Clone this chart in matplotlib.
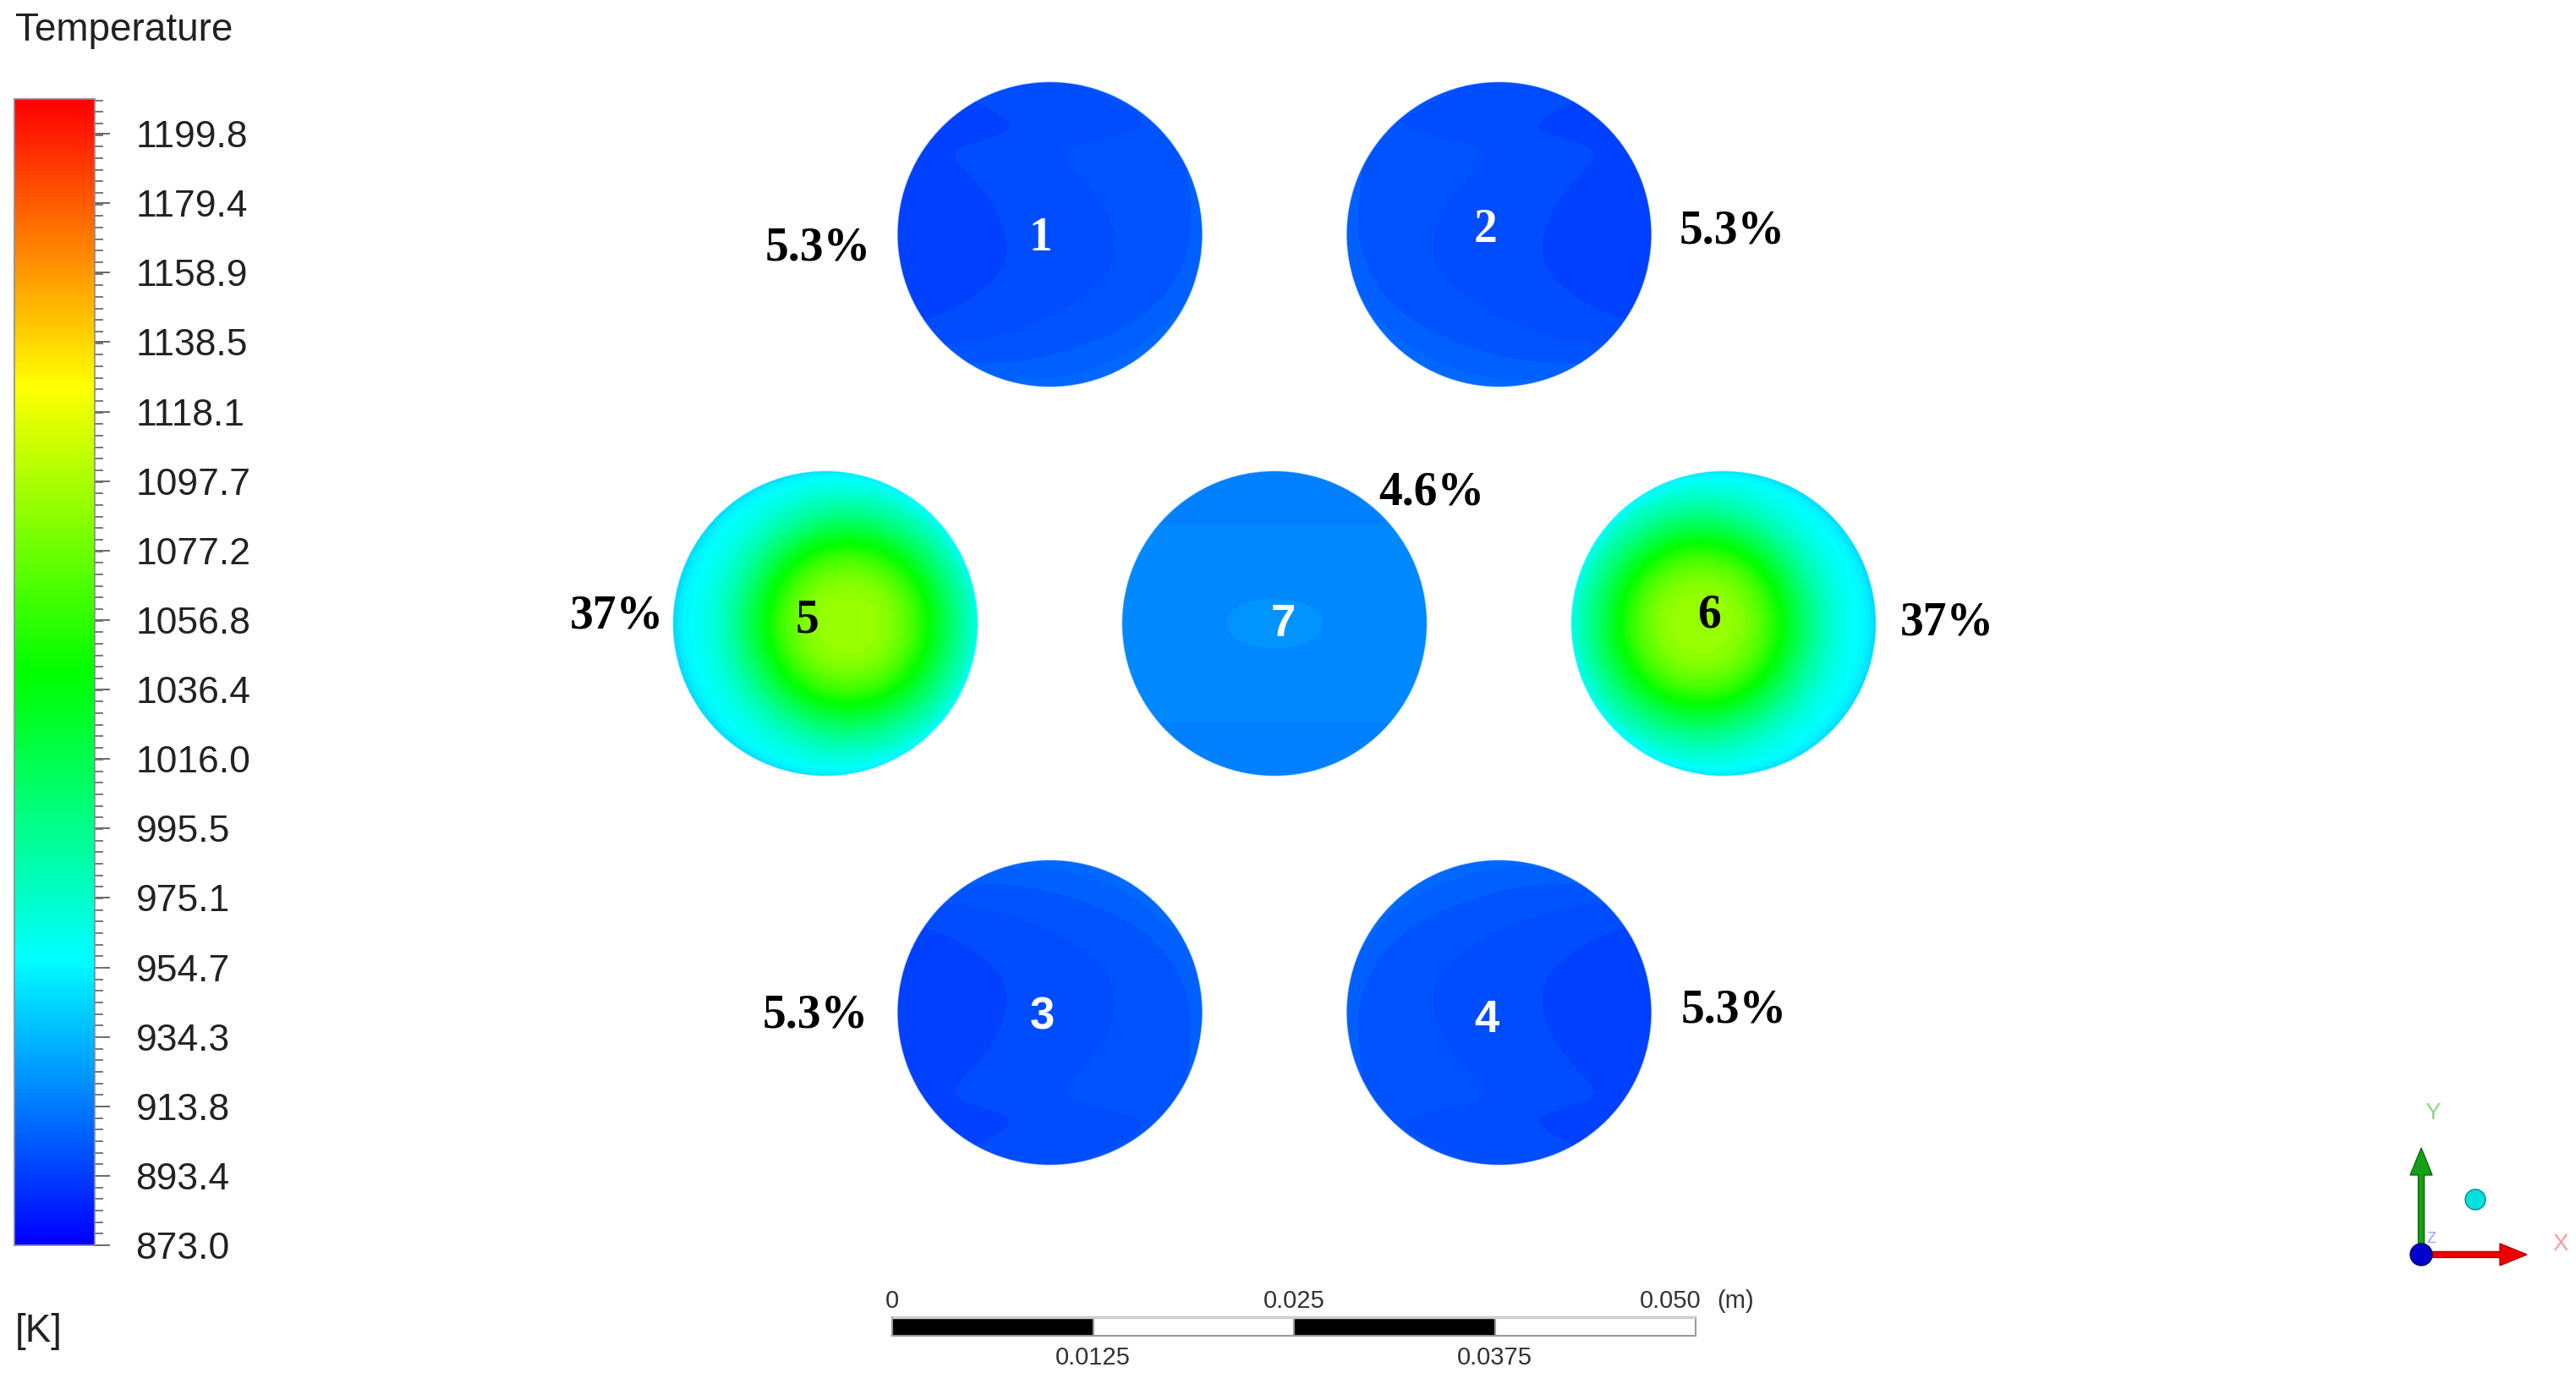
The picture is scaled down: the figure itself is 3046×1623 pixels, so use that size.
import numpy as np
import matplotlib
matplotlib.use("Agg")
import matplotlib.pyplot as plt
from matplotlib.colors import LinearSegmentedColormap
from matplotlib.patches import Circle, Rectangle, FancyArrow
from matplotlib.ticker import FixedLocator, AutoMinorLocator

# ---------------- data ----------------
t_min, t_max = 873.0, 1210.0
legend_ticks = [873.0, 893.4, 913.8, 934.3, 954.7, 975.1, 995.5, 1016.0, 1036.4,
                1056.8, 1077.2, 1097.7, 1118.1, 1138.5, 1158.9, 1179.4, 1199.8]
tube_ids = [1, 2, 3, 4, 5, 6, 7]
tube_share = ["5.3%", "5.3%", "5.3%", "5.3%", "37%", "37%", "4.6%"]
tube_kind = ["swirl", "swirl", "swirl", "swirl", "hot", "hot", "flat"]
tube_mirror_x = [1, -1, 1, -1, 1, -1, 1]
tube_mirror_y = [1, 1, -1, -1, 1, 1, 1]
# swirl tubes (1-4): temperature at S-front, gradient, bottom-edge warming [K]
swirl_T_front = 899.96
swirl_T_grad = 4.8
swirl_T_edge = 5.0
# hot tubes (5, 6): core and wall temperatures [K]
hot_T_core = 1092.0
hot_T_wall = 955.0
# central tube 7 [K]
flat_T = 918.5
flat_T_spot = 3.0
scale_values = [0, 0.0125, 0.025, 0.0375, 0.05]
scale_top_labels = ["0", "0.025", "0.050"]
scale_bottom_labels = ["0.0125", "0.0375"]

# ---------------- layout ----------------
W, H = 3046, 1623
PX = 19000.0            # pixels per metre in the picture
ORIGIN = (1507, 737)    # pixel position of tube 7 centre
PITCH = 0.02795
RADIUS = 0.0095
s3 = np.sqrt(3) / 2
tube_pos = {1: (-0.5, s3), 2: (0.5, s3), 3: (-0.5, -s3), 4: (0.5, -s3),
            5: (-1, 0), 6: (1, 0), 7: (0, 0)}
pct_pos = {1: (967, 288), 2: (2048, 268), 3: (964, 1195), 4: (2050, 1189),
           5: (729, 723), 6: (2302, 731), 7: (1693, 577)}
num_pos = {1: (1230, 277), 2: (1757, 267), 3: (1232, 1198), 4: (1758, 1202),
           5: (955, 728), 6: (2021, 722), 7: (1517, 734)}
num_style = {1: ("Liberation Serif", "white"), 2: ("Liberation Serif", "white"),
             3: ("Liberation Sans", "white"), 4: ("Liberation Sans", "white"),
             5: ("Liberation Serif", "black"), 6: ("Liberation Serif", "black"),
             7: ("Liberation Sans", "white")}

cmap = LinearSegmentedColormap.from_list(
    "ansys_rainbow", ["#0000ff", "#00ffff", "#00ff00", "#ffff00", "#ff0000"])
levels = np.linspace(t_min, t_max, 101)

fig = plt.figure(figsize=(W / 100, H / 100), dpi=100)
fig.patch.set_facecolor("white")

ax = fig.add_axes([0, 0, 1, 1])
ax.set_xlim(-ORIGIN[0] / PX, (W - ORIGIN[0]) / PX)
ax.set_ylim(-(H - ORIGIN[1]) / PX, ORIGIN[1] / PX)
ax.axis("off")

n = 420
lin = np.linspace(-1.02, 1.02, n)
X, Y = np.meshgrid(lin, lin)


def smooth_step(z):
    return 0.5 * (1 + np.tanh(z))


def field(kind, mx, my):
    x = X * mx
    y = Y * my
    r = np.hypot(x, y)
    if kind == "swirl":
        yy = y + 0.1
        curv = 1.03 + (2.2 - 1.03) * smooth_step(-yy / 0.12)
        g = 0.42 - curv * yy ** 2
        u = x - g
        u = u - 0.35 * np.log1p(np.exp((u - 1.0) / 0.35))   # soft cap
        phi = np.arctan2(y, x)
        ring = np.exp(-(1 - np.minimum(r, 1)) / 0.12) * np.clip(np.cos(phi + np.pi / 3), 0, None)
        top = 3.6 * smooth_step((y - 0.62) / 0.08)
        T = swirl_T_front + swirl_T_grad * u - top + swirl_T_edge * ring
    elif kind == "hot":
        off = 0.15
        d = np.hypot(x - off, y)
        prof = np.exp(-(d / 0.68) ** 3)
        wall = 14 * np.exp(-(1 - np.minimum(r, 1)) / 0.05)
        T = hot_T_wall + (hot_T_core - hot_T_wall) * prof - wall
    else:
        q = (x / 0.41) ** 2 + (y / 0.21) ** 2
        band = 5.0 * smooth_step((np.abs(y) - 0.66) / 0.05)
        T = flat_T + flat_T_spot * np.exp(-q) - band
    return np.clip(T, t_min + 0.01, t_max - 0.01)


for k, tid in enumerate(tube_ids):
    cx, cy = (tube_pos[tid][0] * PITCH, tube_pos[tid][1] * PITCH)
    T = field(tube_kind[k], tube_mirror_x[k], tube_mirror_y[k])
    cs = ax.contourf(cx + X * RADIUS, cy + Y * RADIUS, T, levels=levels, cmap=cmap,
                     vmin=t_min, vmax=t_max, antialiased=False)
    circ = Circle((cx, cy), RADIUS, transform=ax.transData, fc="none", ec="none")
    ax.add_patch(circ)
    cs.set_clip_path(circ)
    ax.add_patch(Circle((cx, cy), RADIUS, fc="none", ec="white", lw=1.0, alpha=0.6))

# ---------------- scale bar (metres) ----------------
sb_x0 = (1055 - ORIGIN[0]) / PX
sb_top = (ORIGIN[1] - 1557) / PX
sb_h = 22 / PX
for i in range(len(scale_values) - 1):
    a, b = scale_values[i], scale_values[i + 1]
    ax.add_patch(Rectangle((sb_x0 + a, sb_top - sb_h), b - a, sb_h,
                           fc="black" if i % 2 == 0 else "white", ec="#9a9a9a", lw=1.5))
ax.plot([sb_x0, sb_x0 + scale_values[-1]], [sb_top, sb_top], color="#cfcfcf", lw=2.5,
        solid_capstyle="butt")
sfont = dict(family="Liberation Sans", fontsize=21, color="#333333")
y_top_lab = (ORIGIN[1] - 1546) / PX
y_bot_lab = (ORIGIN[1] - 1591) / PX
top_vals = [scale_values[0], scale_values[2], scale_values[4]]
for v, lab in zip(top_vals, scale_top_labels):
    ha = "right" if v == scale_values[-1] else "center"
    xx = sb_x0 + v + (7 / PX if ha == "right" else 0)
    ax.text(xx, y_top_lab, lab, ha=ha, va="baseline", **sfont)
ax.text(sb_x0 + scale_values[-1] + 25 / PX, y_top_lab, "(m)", ha="left", va="baseline", **sfont)
for v, lab in zip([scale_values[1], scale_values[3]], scale_bottom_labels):
    ax.text(sb_x0 + v, y_bot_lab, lab, ha="center", va="top", **sfont)

# ---------------- colour legend ----------------
cb_l, cb_t, cb_w, cb_b = 17, 117, 95, 1472
cax = fig.add_axes([cb_l / W, 1 - cb_b / H, cb_w / W, (cb_b - cb_t) / H])
grad = np.linspace(t_min, t_max, 1024)[:, None]
cax.imshow(grad, aspect="auto", origin="lower", extent=[0, 1, t_min, t_max], cmap=cmap,
           vmin=t_min, vmax=t_max, interpolation="nearest")
cax.set_xlim(0, 1)
cax.set_ylim(t_min, t_max)
cax.set_xticks([])
cax.yaxis.tick_right()
cax.yaxis.set_major_locator(FixedLocator(legend_ticks))
cax.set_yticklabels([f"{v:.1f}" for v in legend_ticks])
cax.yaxis.set_minor_locator(AutoMinorLocator(6))
cax.tick_params(axis="y", which="major", length=13, width=1.4, color="#666666", pad=22,
                labelsize=32, labelcolor="#222222")
cax.tick_params(axis="y", which="minor", length=7, width=1.4, color="#777777")
for lab in cax.get_yticklabels():
    lab.set_family("Liberation Sans")
for sp in cax.spines.values():
    sp.set_color("#8a8a9a")
    sp.set_linewidth(1.2)

# ---------------- overlay in pixel coordinates ----------------
ov = fig.add_axes([0, 0, 1, 1], zorder=5)
ov.set_xlim(0, W)
ov.set_ylim(H, 0)
ov.axis("off")
ov.patch.set_alpha(0)


def ctext(x, yc, s, size, **kw):
    ov.text(x, yc + 0.35 * size * 100 / 72, s, ha="center", va="baseline", fontsize=size, **kw)


ov.text(18, 48, "Temperature", fontsize=33, family="Liberation Sans", color="#222222",
        ha="left", va="baseline")
ov.text(18, 1586, "[K]", fontsize=33, family="Liberation Sans", color="#222222",
        ha="left", va="baseline")

for k, tid in enumerate(tube_ids):
    px, py = pct_pos[tid]
    ctext(px, py, tube_share[k], 40, family="Liberation Serif", weight="bold", color="black")
    nx, ny = num_pos[tid]
    fam, col = num_style[tid]
    ctext(nx, ny, str(tid), 40 if "Serif" in fam else 38, family=fam, weight="bold", color=col)

# axis triad
o = (2863, 1483)
ov.add_patch(FancyArrow(o[0], o[1], 0, -126, width=7, head_width=26, head_length=32,
                        length_includes_head=True, fc="#16a016", ec="#0b6a0b", lw=1))
ov.add_patch(FancyArrow(o[0], o[1], 125, 0, width=7, head_width=26, head_length=32,
                        length_includes_head=True, fc="#ee0000", ec="#b00000", lw=1))
ov.add_patch(Circle(o, 13, fc="#0000cc", ec="#000066", lw=1, zorder=6))
ov.add_patch(Circle((2927, 1418), 12, fc="#00e0e0", ec="#008a8a", lw=1))
ctext(2877, 1313, "Y", 20, family="Liberation Sans", color="#8fd68f")
ctext(3028, 1468, "X", 20, family="Liberation Sans", color="#ff9a9a")
ctext(2875, 1463, "Z", 13, family="Liberation Sans", color="#9a9aff")

fig.savefig("out.png", dpi=100, facecolor="white")
